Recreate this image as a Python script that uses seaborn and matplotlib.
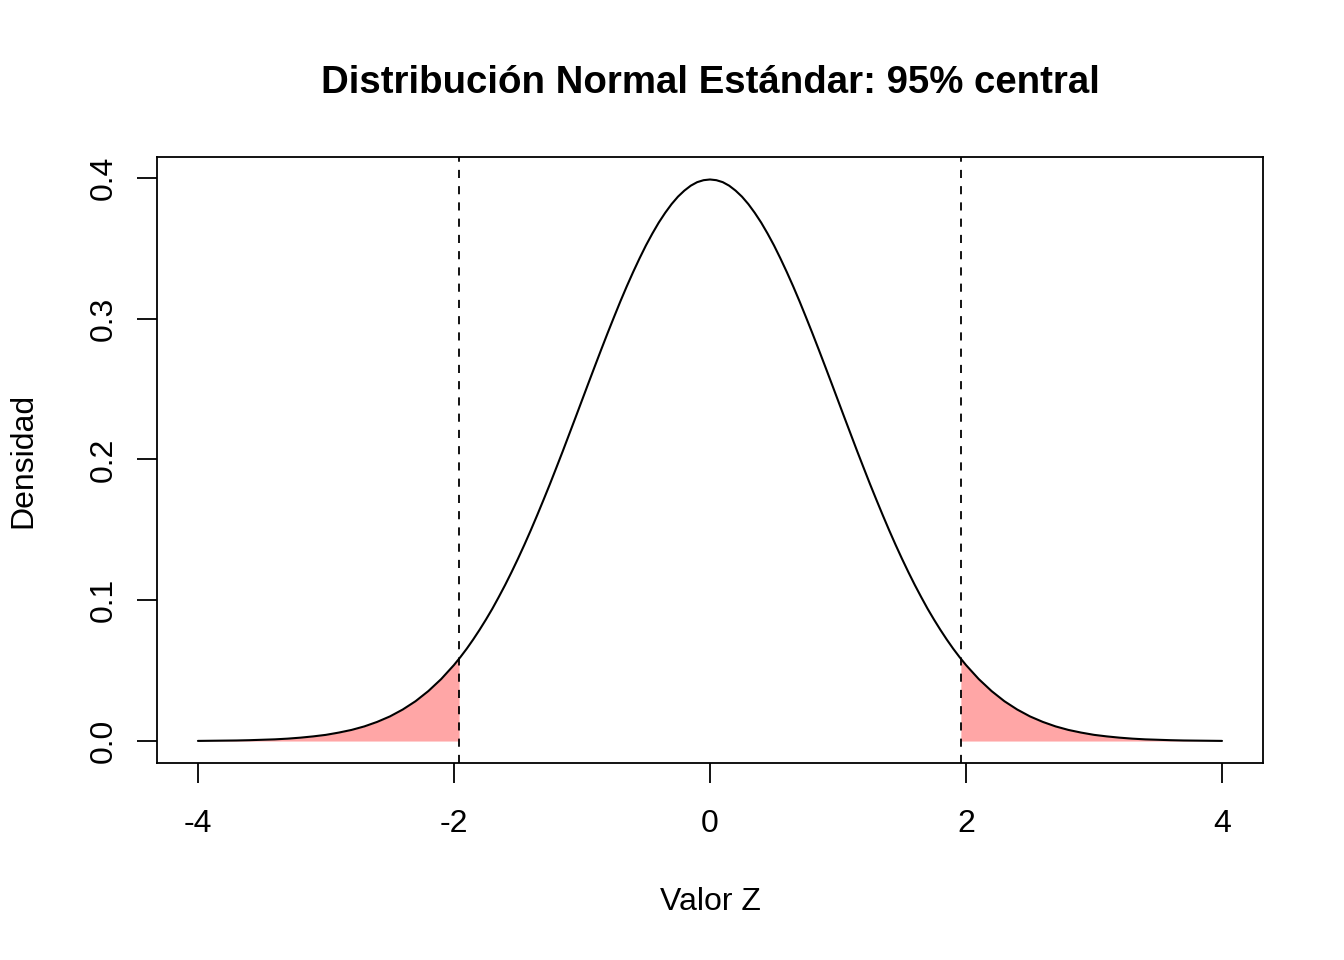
import numpy as np
import pandas as pd
import seaborn as sns
import matplotlib
matplotlib.use("Agg")
import matplotlib.pyplot as plt

# standard normal density (right half, mirrored for the left)
z_half = [0.0, 0.05, 0.1, 0.15, 0.2, 0.25, 0.3, 0.35, 0.4, 0.45,
          0.5, 0.55, 0.6, 0.65, 0.7, 0.75, 0.8, 0.85, 0.9, 0.95,
          1.0, 1.05, 1.1, 1.15, 1.2, 1.25, 1.3, 1.35, 1.4, 1.45,
          1.5, 1.55, 1.6, 1.65, 1.7, 1.75, 1.8, 1.85, 1.9, 1.95,
          2.0, 2.1, 2.2, 2.3, 2.4, 2.5, 2.6, 2.7, 2.8, 2.9,
          3.0, 3.1, 3.2, 3.3, 3.4, 3.5, 3.6, 3.7, 3.8, 3.9, 4.0]
dens_half = [0.3989, 0.3984, 0.3970, 0.3945, 0.3910, 0.3867, 0.3814, 0.3752, 0.3683, 0.3605,
             0.3521, 0.3429, 0.3332, 0.3230, 0.3123, 0.3011, 0.2897, 0.2780, 0.2661, 0.2541,
             0.2420, 0.2299, 0.2179, 0.2059, 0.1942, 0.1826, 0.1714, 0.1604, 0.1497, 0.1394,
             0.1295, 0.1200, 0.1109, 0.1023, 0.0940, 0.0863, 0.0790, 0.0721, 0.0656, 0.0596,
             0.0540, 0.0440, 0.0355, 0.0283, 0.0224, 0.0175, 0.0136, 0.0104, 0.0079, 0.0060,
             0.0044, 0.0033, 0.0024, 0.0017, 0.0012, 0.0009, 0.0006, 0.0004, 0.0003, 0.0002,
             0.0001]
z = [-v for v in z_half[::-1]] + z_half[1:]
dens = dens_half[::-1] + dens_half[1:]
z_crit = 1.96
dens_crit = 0.0584

x_ticks = [-4, -2, 0, 2, 4]
y_ticks = [0.0, 0.1, 0.2, 0.3, 0.4]
y_labels = ["0.0", "0.1", "0.2", "0.3", "0.4"]

df = pd.DataFrame({"z": z, "dens": dens})

sns.set_style("ticks")
plt.rcParams["font.family"] = ["Liberation Sans", "DejaVu Sans"]
plt.rcParams["axes.unicode_minus"] = False
plt.rcParams["text.color"] = "black"
plt.rcParams["axes.labelcolor"] = "black"

fig = plt.figure(figsize=(13.44, 9.6), dpi=100)
ax = fig.add_axes([0.1168, 0.2052, 0.8229, 0.6313])

# shaded tails
left = df[df.z < -z_crit]
lx = list(left.z) + [-z_crit, -z_crit]
ly = list(left.dens) + [dens_crit, 0]
right = df[df.z > z_crit]
rx = [z_crit, z_crit] + list(right.z)
ry = [0, dens_crit] + list(right.dens)
ax.fill_between(lx, ly, 0, color="#FFA6A6", linewidth=0)
ax.fill_between(rx, ry, 0, color="#FFA6A6", linewidth=0)

sns.lineplot(data=df, x="z", y="dens", color="black", linewidth=1.5, ax=ax)

for v in [-z_crit, z_crit]:
    ax.axvline(v, color="black", linewidth=1.3, linestyle=(0, (4.5, 4.5)))

ax.set_xlim(-4.32, 4.32)
ax.set_ylim(-0.0156, 0.4149)
ax.set_xticks(x_ticks)
ax.set_xticklabels([str(t) for t in x_ticks])
ax.set_yticks(y_ticks)
ax.set_yticklabels(y_labels, rotation=90, va="center")

ax.tick_params(axis="both", direction="out", length=14.4, width=1.3,
               labelsize=23, colors="black")
ax.tick_params(axis="x", pad=19)
ax.tick_params(axis="y", pad=13)
for s in ax.spines.values():
    s.set_linewidth(1.3)
    s.set_color("black")

ax.set_xlabel("Valor Z", fontsize=23, color="black")
ax.set_ylabel("Densidad", fontsize=23, color="black")
ax.xaxis.set_label_coords(0.5, -0.205)
ax.yaxis.set_label_coords(-0.107, 0.5)
ax.set_title("Distribución Normal Estándar: 95% central", fontsize=27.6,
             fontweight="bold", pad=46, color="black")

fig.savefig("out.png", dpi=100)
